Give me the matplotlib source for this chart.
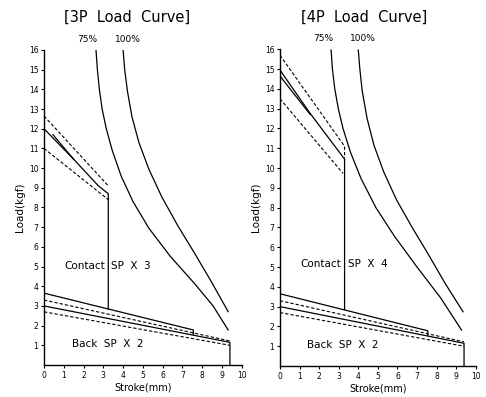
import matplotlib
matplotlib.use("Agg")
import matplotlib.pyplot as plt

# ---------------- data ----------------
x_ticks = [0, 1, 2, 3, 4, 5, 6, 7, 8, 9, 10]
y_ticks = [1, 2, 3, 4, 5, 6, 7, 8, 9, 10, 11, 12, 13, 14, 15, 16]

# 3P panel
p3_c75_x = [2.63, 2.7, 2.8, 2.94, 3.15, 3.45, 3.9, 4.5, 5.3, 6.4, 7.6, 8.55, 9.31]
p3_c75_y = [16.0, 15.0, 14.0, 13.0, 12.0, 10.9, 9.6, 8.3, 6.95, 5.5, 4.15, 3.0, 1.78]
p3_c100_x = [4.0, 4.08, 4.22, 4.45, 4.8, 5.3, 5.95, 6.75, 7.6, 8.45, 9.31]
p3_c100_y = [16.0, 15.0, 13.9, 12.6, 11.3, 9.95, 8.55, 7.1, 5.7, 4.25, 2.71]

p3_contact_outer_x = [0.0, 1.5, 2.75, 3.25, 3.25]
p3_contact_outer_y = [12.0, 10.45, 9.1, 8.7, 2.85]
p3_contact_inner_x = [0.45, 1.5]
p3_contact_inner_y = [11.7, 10.45]
p3_contact_dash_hi_x = [0.0, 3.25]
p3_contact_dash_hi_y = [12.65, 9.1]
p3_contact_dash_lo_x = [0.0, 3.25]
p3_contact_dash_lo_y = [11.0, 8.4]

# 4P panel
p4_c75_x = [2.61, 2.68, 2.8, 2.98, 3.22, 3.6, 4.15, 4.9, 5.85, 7.0, 8.2, 9.27]
p4_c75_y = [15.96, 15.0, 14.0, 13.0, 12.0, 10.8, 9.45, 8.0, 6.55, 5.0, 3.45, 1.82]
p4_c100_x = [4.0, 4.08, 4.2, 4.45, 4.8, 5.3, 5.95, 6.75, 7.6, 8.45, 9.35]
p4_c100_y = [15.96, 15.0, 13.9, 12.5, 11.15, 9.8, 8.4, 7.0, 5.6, 4.15, 2.74]

p4_contact_outer_x = [0.0, 1.55, 3.3, 3.3]
p4_contact_outer_y = [14.95, 12.75, 10.45, 2.85]
p4_contact_inner_x = [0.0, 1.55]
p4_contact_inner_y = [14.65, 12.7]
p4_contact_dash_hi_x = [0.0, 3.3, 3.3]
p4_contact_dash_hi_y = [15.7, 11.1, 10.5]
p4_contact_dash_lo_x = [0.0, 3.22]
p4_contact_dash_lo_y = [13.5, 9.73]

# Back spring (same in both panels)
back_upper_x = [0.0, 7.55, 7.55]
back_upper_y = [3.65, 1.78, 1.55]
back_lower_x = [0.0, 9.4, 9.4]
back_lower_y = [3.0, 1.15, 0.0]
back_dash_hi_x = [0.0, 9.4]
back_dash_hi_y = [3.3, 1.22]
back_dash_lo_x = [0.0, 9.4]
back_dash_lo_y = [2.7, 1.0]

titles = ["[3P  Load  Curve]", "[4P  Load  Curve]"]
contact_labels = ["SP  X  3", "SP  X  4"]
back_label = "Back  SP  X  2"
xlabel = "Stroke(mm)"
ylabel = "Load(kgf)"

# ---------------- drawing ----------------
plt.rcParams['font.family'] = ['DejaVu Sans']
fig = plt.figure(figsize=(4.86, 3.97), dpi=100)

ax_rects = [[0.0905, 0.0806, 0.407, 0.7935], [0.576, 0.078, 0.403, 0.798]]
panels = [
    dict(c75=(p3_c75_x, p3_c75_y), c100=(p3_c100_x, p3_c100_y),
         outer=(p3_contact_outer_x, p3_contact_outer_y),
         inner=(p3_contact_inner_x, p3_contact_inner_y),
         dhi=(p3_contact_dash_hi_x, p3_contact_dash_hi_y),
         dlo=(p3_contact_dash_lo_x, p3_contact_dash_lo_y),
         contact_x=(3.1, 3.4), contact_y=5.05),
    dict(c75=(p4_c75_x, p4_c75_y), c100=(p4_c100_x, p4_c100_y),
         outer=(p4_contact_outer_x, p4_contact_outer_y),
         inner=(p4_contact_inner_x, p4_contact_inner_y),
         dhi=(p4_contact_dash_hi_x, p4_contact_dash_hi_y),
         dlo=(p4_contact_dash_lo_x, p4_contact_dash_lo_y),
         contact_x=(3.1, 3.45), contact_y=5.15),
]

lw = 0.9
dash = (0, (3, 1.8))
for i, (rect, p) in enumerate(zip(ax_rects, panels)):
    ax = fig.add_axes(rect)
    ax.set_xlim(0, 10)
    ax.set_ylim(0, 16)
    for s in ['top', 'right']:
        ax.spines[s].set_visible(False)
    for s in ['left', 'bottom']:
        ax.spines[s].set_linewidth(1.0)
    ax.set_xticks(x_ticks)
    ax.set_yticks(y_ticks)
    ax.tick_params(direction='out', length=2.5, width=0.8, labelsize=5.5, pad=1.5)

    ax.plot(*p['c75'], color='black', lw=lw)
    ax.plot(*p['c100'], color='black', lw=lw)
    ax.plot(*p['outer'], color='black', lw=lw)
    ax.plot(*p['inner'], color='black', lw=lw)
    ax.plot(*p['dhi'], color='black', lw=0.8, linestyle=dash)
    ax.plot(*p['dlo'], color='black', lw=0.8, linestyle=dash)

    ax.plot(back_upper_x, back_upper_y, color='black', lw=lw)
    ax.plot(back_lower_x, back_lower_y, color='black', lw=lw)
    ax.plot(back_dash_hi_x, back_dash_hi_y, color='black', lw=0.8, linestyle=dash)
    ax.plot(back_dash_lo_x, back_dash_lo_y, color='black', lw=0.8, linestyle=dash)

    ax.text(p['contact_x'][0], p['contact_y'], "Contact", ha='right', va='center', fontsize=7.5)
    ax.text(p['contact_x'][1], p['contact_y'], contact_labels[i], ha='left', va='center', fontsize=7.5)
    ax.text(1.4, 1.07, back_label, ha='left', va='center', fontsize=7.5)

    ax.text(2.2, 16.55, "75%", ha='center', va='center', fontsize=6.5)
    ax.text(4.25, 16.55, "100%", ha='center', va='center', fontsize=6.5)

    ax.set_xlabel(xlabel, fontsize=7, labelpad=2)
    ax.set_ylabel(ylabel, fontsize=7.5, labelpad=3)

fig.text(127 / 486, 1 - 17 / 397, titles[0], ha='center', va='center', fontsize=10.5)
fig.text(364 / 486, 1 - 17 / 397, titles[1], ha='center', va='center', fontsize=10.5)

fig.savefig("out.png", dpi=100)
